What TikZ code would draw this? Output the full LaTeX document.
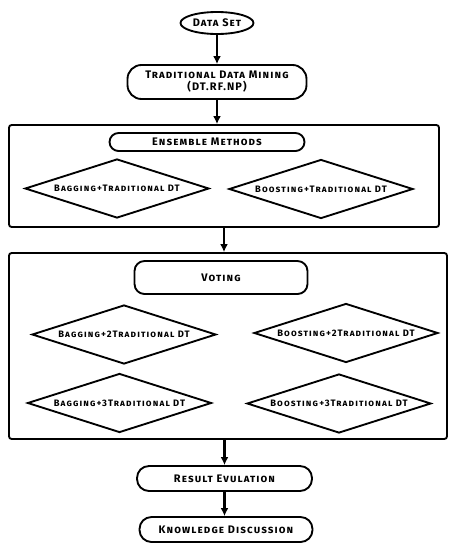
\documentclass[tikz,border=0pt]{standalone}
\usepackage{fontspec}
\setmainfont{Fira Sans}
\usetikzlibrary{arrows.meta,positioning,shapes.geometric}

\begin{document}
\begin{tikzpicture}[
  x=0.75pt, y=-0.75pt,
  >={Latex[length=6pt,width=6pt]},
  lbl/.style={font=\bfseries\scshape\fontsize{8.2}{9}\selectfont\addfontfeatures{LetterSpace=10}, align=center},
  small/.style={font=\bfseries\scshape\fontsize{7}{8}\selectfont\addfontfeatures{LetterSpace=12}},
  term/.style={draw, ellipse, line width=1.4pt, inner sep=0pt, lbl},
  pill/.style={draw, rectangle, line width=1.4pt, inner sep=0pt, lbl},
  panel/.style={draw, rectangle, rounded corners=2pt, line width=1.4pt, inner sep=0pt},
  choice/.style={draw, diamond, aspect=3.12, line width=1.4pt, inner sep=0pt, small,
    minimum width=138pt, minimum height=44.25pt},
  flow/.style={->, line width=1.6pt}
]
\useasboundingbox (0,0) rectangle (457,550);

% main chain
\node[term, minimum width=54.75pt, minimum height=16.5pt] (data) at (217,23) {Data Set};
\node[pill, rounded corners=10.5pt, minimum width=134.25pt, minimum height=25.5pt] (tdm) at (217,82)
  {Traditional Data Mining\\(DT.RF.NP)};

% ensemble block
\node[panel, minimum width=322.5pt, minimum height=76.5pt] (ens) at (224,176) {};
\node[pill, rounded corners=6.75pt, minimum width=146.25pt, minimum height=13.5pt] (ensm) at (207,142) {Ensemble Methods};
\node[choice] (bag) at (117,188.5) {Bagging+Traditional DT};
\node[choice] (boost) at (321,189) {Boosting+Traditional DT};

% voting block
\node[panel, minimum width=328.5pt, minimum height=139.5pt] (vote) at (228,346) {};
\node[pill, rounded corners=7.5pt, minimum width=129.75pt, minimum height=24.75pt] (voting) at (221,277.5) {Voting};
\node[choice] (bag2) at (124,334.5) {Bagging+2Traditional DT};
\node[choice] (boost2) at (346,333) {Boosting+2Traditional DT};
\node[choice] (bag3) at (119.5,403) {Bagging+3Traditional DT};
\node[choice] (boost3) at (339,403.5) {Boosting+3Traditional DT};

% output
\node[pill, rounded corners=9pt, minimum width=131.25pt, minimum height=18.75pt] (res) at (224.5,478.5) {Result Evulation};
\node[pill, rounded corners=9pt, minimum width=129.75pt, minimum height=18.75pt] (know) at (226,529.5) {Knowledge Discussion};

\draw[flow] (data) -- (tdm);
\draw[flow] (tdm) -- (tdm |- ens.north);
\draw[flow] (ens.south) -- (ens.south |- vote.north);
\draw[flow] (res |- vote.south) -- (res);
\draw[flow] (res) -- (res |- know.north);
\end{tikzpicture}
\end{document}
